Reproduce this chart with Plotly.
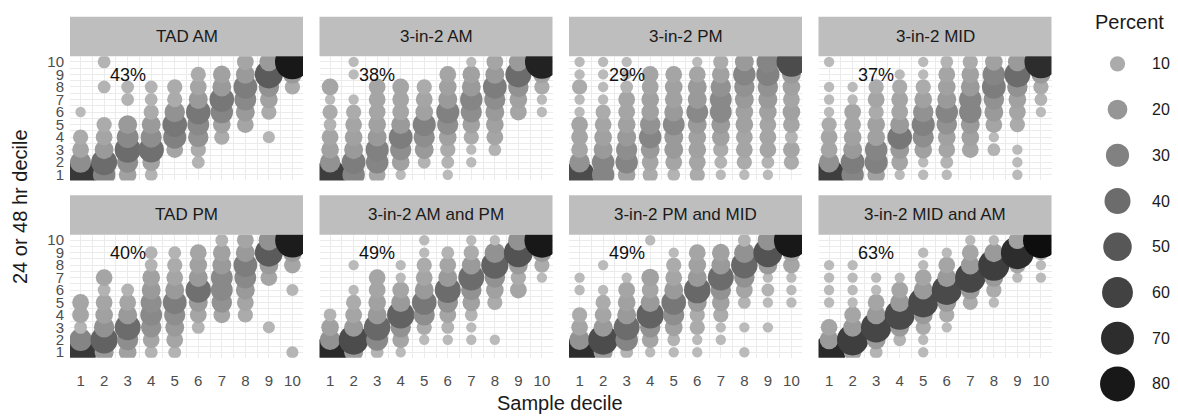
import numpy as np
import plotly.graph_objects as go

# ---- data -------------------------------------------------------------
deciles = list(range(1, 11))

panel_titles = ["TAD AM", "3-in-2 AM", "3-in-2 PM", "3-in-2 MID",
                "TAD PM", "3-in-2 AM and PM", "3-in-2 PM and MID", "3-in-2 MID and AM"]
agreement = ["43%", "38%", "29%", "37%", "40%", "49%", "49%", "63%"]

# One inner list per sample decile (1..10); entries are the percent falling
# in 24 or 48 hr deciles 1..10. Zero means no observations.
tad_am = [
    [65, 24, 13, 10, 0, 3, 0, 0, 0, 0],
    [28, 40, 18, 13, 10, 0, 0, 6, 0, 6],
    [15, 24, 40, 26, 18, 0, 6, 6, 0, 0],
    [6, 15, 38, 24, 18, 10, 6, 6, 0, 0],
    [0, 0, 13, 30, 35, 22, 10, 10, 0, 0],
    [0, 6, 10, 22, 26, 35, 18, 13, 10, 0],
    [0, 0, 0, 10, 15, 28, 35, 18, 15, 0],
    [0, 0, 0, 0, 13, 18, 26, 32, 18, 13],
    [0, 0, 0, 5, 0, 10, 15, 22, 48, 18],
    [0, 0, 0, 0, 0, 0, 0, 10, 18, 80],
]
in2_am = [
    [62, 22, 15, 13, 6, 10, 3, 13, 0, 0],
    [28, 32, 18, 15, 13, 10, 3, 0, 3, 3],
    [13, 28, 30, 18, 15, 13, 13, 13, 0, 0],
    [3, 15, 24, 32, 18, 13, 13, 13, 0, 0],
    [0, 6, 18, 24, 30, 15, 13, 10, 0, 0],
    [3, 6, 10, 15, 24, 30, 18, 15, 13, 0],
    [0, 3, 3, 10, 15, 24, 28, 18, 15, 3],
    [0, 0, 6, 13, 15, 18, 24, 32, 18, 13],
    [0, 0, 0, 0, 0, 13, 15, 22, 40, 18],
    [0, 0, 0, 0, 0, 3, 3, 10, 15, 75],
]
in2_pm = [
    [55, 22, 13, 13, 13, 3, 3, 10, 3, 3],
    [28, 28, 18, 15, 13, 10, 3, 3, 3, 3],
    [15, 28, 24, 18, 15, 13, 13, 6, 3, 3],
    [10, 13, 18, 28, 22, 15, 15, 13, 13, 0],
    [6, 13, 18, 18, 26, 18, 15, 15, 13, 0],
    [10, 13, 15, 15, 18, 26, 18, 18, 13, 3],
    [3, 6, 10, 15, 18, 26, 26, 22, 15, 10],
    [3, 10, 13, 13, 15, 15, 18, 22, 28, 18],
    [3, 6, 13, 13, 13, 15, 18, 22, 30, 28],
    [0, 10, 13, 6, 13, 15, 13, 15, 18, 55],
]
in2_mid = [
    [62, 22, 13, 13, 10, 3, 3, 3, 0, 3],
    [28, 32, 18, 15, 13, 13, 3, 3, 0, 0],
    [15, 30, 28, 15, 15, 10, 13, 10, 0, 0],
    [3, 13, 18, 35, 18, 13, 13, 10, 3, 0],
    [3, 3, 15, 24, 30, 22, 15, 10, 3, 3],
    [3, 6, 13, 15, 22, 28, 18, 15, 13, 6],
    [0, 0, 13, 15, 18, 28, 28, 18, 15, 10],
    [0, 0, 6, 3, 13, 18, 22, 32, 28, 15],
    [3, 3, 3, 0, 10, 13, 15, 22, 40, 18],
    [0, 0, 0, 0, 0, 3, 6, 10, 18, 70],
]
tad_pm = [
    [65, 28, 6, 13, 13, 0, 0, 0, 0, 0],
    [18, 45, 22, 15, 13, 6, 13, 0, 0, 0],
    [15, 24, 40, 18, 13, 6, 0, 0, 0, 0],
    [6, 13, 22, 26, 24, 18, 15, 6, 6, 0],
    [6, 13, 18, 24, 32, 18, 13, 10, 6, 0],
    [0, 0, 6, 13, 18, 38, 18, 15, 13, 0],
    [0, 0, 0, 13, 22, 26, 26, 18, 15, 6],
    [0, 0, 0, 10, 13, 18, 26, 32, 18, 13],
    [0, 0, 5, 0, 0, 0, 13, 18, 48, 22],
    [5, 0, 0, 0, 0, 5, 0, 13, 18, 78],
]
in2_am_pm = [
    [72, 22, 15, 6, 0, 0, 0, 0, 0, 0],
    [18, 55, 18, 13, 10, 3, 0, 3, 0, 0],
    [6, 26, 42, 18, 15, 13, 13, 0, 0, 0],
    [3, 13, 22, 45, 18, 13, 3, 3, 0, 0],
    [0, 3, 10, 24, 35, 18, 13, 10, 3, 3],
    [0, 3, 6, 13, 22, 40, 18, 13, 6, 0],
    [0, 3, 3, 6, 15, 22, 40, 18, 10, 3],
    [0, 3, 0, 0, 10, 15, 22, 45, 22, 3],
    [0, 0, 0, 0, 0, 13, 10, 18, 52, 22],
    [0, 0, 0, 0, 0, 0, 3, 10, 18, 80],
]
in2_pm_mid = [
    [70, 22, 13, 10, 0, 3, 3, 0, 0, 0],
    [18, 55, 18, 13, 10, 3, 0, 3, 0, 0],
    [6, 28, 40, 18, 15, 13, 3, 0, 0, 0],
    [3, 13, 22, 45, 18, 13, 15, 0, 0, 3],
    [3, 6, 15, 24, 35, 18, 13, 10, 3, 0],
    [3, 3, 10, 10, 18, 42, 18, 15, 13, 0],
    [0, 3, 3, 10, 15, 22, 40, 18, 15, 0],
    [3, 0, 3, 0, 6, 13, 22, 42, 22, 6],
    [0, 0, 3, 0, 3, 6, 3, 18, 52, 22],
    [0, 0, 0, 0, 3, 3, 3, 13, 15, 80],
]
in2_mid_am = [
    [72, 18, 13, 0, 3, 3, 3, 3, 0, 0],
    [15, 62, 18, 13, 3, 3, 3, 3, 0, 0],
    [6, 18, 58, 18, 13, 3, 3, 0, 0, 0],
    [0, 6, 18, 56, 18, 13, 3, 0, 0, 0],
    [3, 3, 10, 18, 56, 18, 13, 3, 3, 0],
    [0, 0, 3, 10, 18, 56, 18, 13, 3, 0],
    [0, 0, 0, 0, 10, 18, 58, 18, 13, 3],
    [0, 0, 0, 0, 3, 10, 18, 62, 18, 3],
    [0, 0, 0, 0, 0, 0, 3, 13, 70, 15],
    [0, 0, 0, 0, 0, 0, 3, 3, 10, 85],
]
panels = [tad_am, in2_am, in2_pm, in2_mid, tad_pm, in2_am_pm, in2_pm_mid, in2_mid_am]

legend_values = [10, 20, 30, 40, 50, 60, 70, 80]

# ---- styling helpers --------------------------------------------------
W, H = 1178, 418
FONT = "Liberation Sans, Arial, sans-serif"
GREY_SCALE = [[0, "rgb(192,192,192)"], [1, "rgb(3,3,3)"]]
CMIN, CMAX = 0, 90


def bubble_size(v):
    return 4.5 + 3.4 * np.sqrt(np.asarray(v, dtype=float))


def fx(px):
    return px / W


def fy(px):
    return 1 - px / H


def label(x, y, text, size, color="#1a1a1a", xanchor="center", **kw):
    base = dict(xref="paper", yref="paper", x=x, y=y, text=text, showarrow=False,
                xanchor=xanchor, yanchor="middle",
                font=dict(family=FONT, size=size, color=color))
    base.update(kw)
    return base


fig = go.Figure()

panel_w = 233
col_step = 249.5
row_plot = [(54, 180), (235, 360)]
row_strip = [(14, 54), (195, 235)]

shapes = []
annotations = []

for k, (title, mat) in enumerate(zip(panel_titles, panels)):
    r, c = divmod(k, 4)
    x0 = 70 + col_step * c
    x1 = x0 + panel_w
    yt, yb = row_plot[r]
    suffix = "" if k == 0 else str(k + 1)

    xs, ys, vs = [], [], []
    for i, sample_dec in enumerate(deciles):
        for j, hr_dec in enumerate(deciles):
            v = mat[i][j]
            if v > 0:
                xs.append(sample_dec)
                ys.append(hr_dec)
                vs.append(v)

    fig.add_trace(go.Scatter(
        x=xs, y=ys, mode="markers",
        xaxis="x" + suffix, yaxis="y" + suffix,
        marker=dict(size=bubble_size(vs), sizemode="diameter",
                    color=vs, colorscale=GREY_SCALE, cmin=CMIN, cmax=CMAX,
                    line=dict(width=0), opacity=1),
        showlegend=False, hoverinfo="skip",
    ))

    grid = dict(
        range=[0.55, 10.45], tickmode="linear", tick0=1, dtick=1,
        showgrid=True, gridcolor="#ebebeb", gridwidth=1.1,
        minor=dict(tickmode="linear", tick0=0.5, dtick=0.5, showgrid=True,
                   gridcolor="#ebebeb", gridwidth=0.6),
        zeroline=False, showline=False, ticks="",
        tickfont=dict(family=FONT, size=15, color="#4d4d4d"),
        fixedrange=True,
    )
    fig.update_layout(**{
        "xaxis" + suffix: dict(grid, domain=[fx(x0), fx(x1)], anchor="y" + suffix,
                               showticklabels=(r == 1), ticklabelstandoff=12),
        "yaxis" + suffix: dict(grid, domain=[fy(yb), fy(yt)], anchor="x" + suffix,
                               showticklabels=(c == 0), ticklabelstandoff=5),
    })

    st, sb = row_strip[r]
    shapes.append(dict(type="rect", xref="paper", yref="paper",
                       x0=fx(x0), x1=fx(x1), y0=fy(sb), y1=fy(st),
                       fillcolor="#bebebe", line=dict(width=0), layer="below"))
    annotations.append(label(fx((x0 + x1) / 2), fy((st + sb) / 2), title, 17))
    annotations.append(dict(xref="x" + suffix, yref="y" + suffix, x=3, y=8.95,
                            text=agreement[k], showarrow=False,
                            xanchor="center", yanchor="middle",
                            font=dict(family=FONT, size=18, color="#111111")))

# ---- size legend drawn on its own pixel-scaled axes --------------------
leg_left = 1090
fig.update_layout(
    xaxis9=dict(domain=[fx(leg_left), 1], range=[0, W - leg_left], visible=False,
                fixedrange=True),
    yaxis9=dict(domain=[0, 1], range=[H, 0], visible=False, anchor="x9",
                fixedrange=True),
)
leg_y = [61.7 + 46.4 * i for i in range(len(legend_values))]
fig.add_trace(go.Scatter(
    x=[1117.5 - leg_left] * len(legend_values), y=leg_y, mode="markers",
    xaxis="x9", yaxis="y9", cliponaxis=False,
    marker=dict(size=bubble_size(legend_values), sizemode="diameter",
                color=legend_values, colorscale=GREY_SCALE, cmin=CMIN, cmax=CMAX,
                line=dict(width=0), opacity=1),
    showlegend=False, hoverinfo="skip",
))
for v, yy in zip(legend_values, leg_y):
    annotations.append(dict(xref="x9", yref="y9", x=1150 - leg_left, y=yy,
                            text=str(v), showarrow=False, xanchor="left",
                            yanchor="middle",
                            font=dict(family=FONT, size=16, color="#1a1a1a")))
annotations.append(label(fx(1093), fy(19), "Percent", 20, xanchor="left"))

# ---- axis titles ------------------------------------------------------
annotations.append(label(fx(560), fy(406), "Sample decile", 20))
annotations.append(label(fx(20), fy(207), "24 or 48 hr decile", 20, textangle=-90))

fig.update_layout(
    width=W, height=H,
    margin=dict(l=0, r=0, t=0, b=0),
    paper_bgcolor="white", plot_bgcolor="white",
    shapes=shapes, annotations=annotations,
    showlegend=False,
)

fig.write_html("out.html")
